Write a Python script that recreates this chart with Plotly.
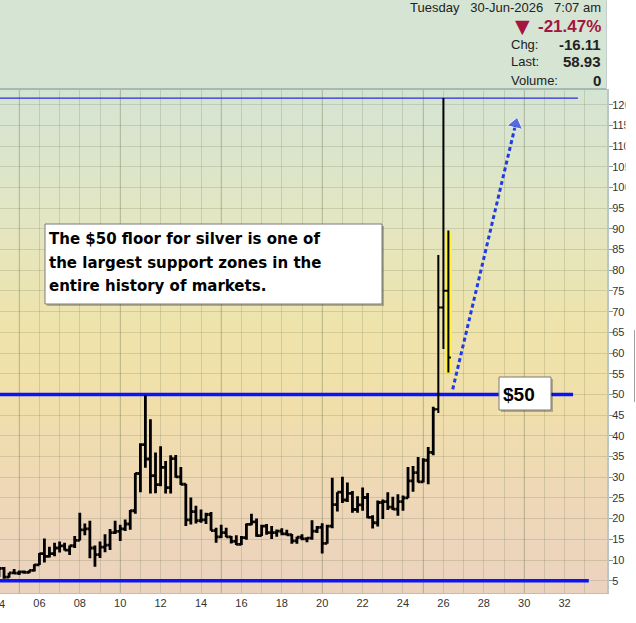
import base64
import plotly.graph_objects as go

# ---------------- data (quarterly silver bars) ----------------
QUARTER_START = [f"{y}-{m:02d}-01" for y in range(2004, 2027) for m in (1, 4, 7, 10)][:90]

OPEN = [
    5.96, 7.97, 5.85, 6.90,      # 2004
    6.82, 7.14, 7.03, 7.50,      # 2005
    8.83, 11.55, 10.90, 11.55,   # 2006
    12.90, 13.40, 12.40, 13.45,  # 2007
    14.76, 17.30, 17.50, 12.90,  # 2008
    11.30, 13.10, 13.60, 16.60,  # 2009
    16.90, 17.50, 18.70, 21.90,  # 2010
    30.90, 37.90, 34.40, 30.40,  # 2011
    28.20, 32.40, 27.50, 34.50,  # 2012
    30.10, 28.30, 19.70, 21.70,  # 2013
    19.50, 19.70, 21.00, 17.10,  # 2014
    15.60, 16.60, 15.60, 14.50,  # 2015
    13.80, 15.40, 18.60, 19.20,  # 2016
    15.90, 18.20, 16.60, 16.60,  # 2017
    17.00, 16.30, 16.10, 14.60,  # 2018
    15.50, 15.10, 15.30, 17.00,  # 2019
    17.90, 14.00, 18.20, 23.40,  # 2020
    26.40, 24.50, 26.10, 22.20,  # 2021
    23.30, 25.10, 20.30, 19.00,  # 2022
    23.90, 24.10, 22.80, 22.30,  # 2023
    24.10, 25.00, 29.10, 31.10,  # 2024
    28.90, 34.10, 36.00, 46.40,  # 2025
    71.00, 75.04,                # 2026
]
HIGH = [
    8.00, 8.29, 6.90, 7.82,
    7.46, 7.48, 7.55, 9.00,
    11.70, 15.20, 13.20, 14.15,
    14.50, 14.20, 13.50, 15.80,
    21.40, 18.80, 19.50, 13.50,
    14.50, 16.20, 17.50, 19.50,
    18.50, 19.80, 22.10, 31.00,
    38.20, 49.80, 44.00, 36.00,
    37.50, 33.90, 35.30, 35.40,
    32.50, 28.40, 25.10, 23.10,
    22.20, 21.40, 21.60, 17.80,
    18.50, 17.80, 15.80, 16.00,
    15.80, 18.80, 21.20, 20.00,
    18.50, 18.70, 18.20, 17.40,
    17.70, 17.30, 16.30, 15.60,
    16.20, 15.50, 19.60, 18.20,
    18.90, 18.50, 29.90, 26.40,
    30.10, 28.70, 26.70, 25.40,
    27.50, 26.20, 20.80, 24.40,
    24.60, 26.40, 25.30, 25.90,
    25.60, 32.50, 32.70, 34.90,
    34.60, 37.30, 47.00, 83.70,
    121.60, 89.60,
]
LOW = [
    5.90, 5.50, 5.72, 6.55,
    6.40, 6.70, 6.80, 7.20,
    8.80, 9.40, 10.60, 10.90,
    11.80, 12.30, 11.20, 12.90,
    14.70, 16.00, 10.40, 8.40,
    10.50, 11.90, 12.40, 16.30,
    14.60, 17.00, 17.30, 21.20,
    26.40, 32.30, 26.10, 26.15,
    27.80, 26.10, 26.10, 29.90,
    28.10, 18.20, 18.60, 18.80,
    19.00, 18.70, 17.10, 14.20,
    15.30, 15.50, 14.00, 13.60,
    13.60, 14.90, 18.40, 15.60,
    15.80, 16.10, 15.10, 15.60,
    16.00, 15.90, 13.90, 13.90,
    14.80, 14.30, 14.90, 16.50,
    11.60, 13.90, 17.70, 21.70,
    23.80, 24.00, 21.40, 21.40,
    21.90, 20.10, 17.60, 18.10,
    19.90, 22.10, 22.10, 20.70,
    21.90, 24.90, 26.50, 28.70,
    28.70, 28.30, 35.30, 45.50,
    61.00, 55.30,
]
CLOSE = [
    7.97, 5.85, 6.90, 6.82,
    7.14, 7.03, 7.50, 8.83,
    11.55, 10.90, 11.55, 12.90,
    13.40, 12.40, 13.45, 14.76,
    17.30, 17.50, 12.90, 11.30,
    13.10, 13.60, 16.60, 16.90,
    17.50, 18.70, 21.90, 30.90,
    37.90, 34.40, 30.40, 28.20,
    32.40, 27.50, 34.50, 30.10,
    28.30, 19.70, 21.70, 19.50,
    19.70, 21.00, 17.10, 15.60,
    16.60, 15.60, 14.50, 13.80,
    15.40, 18.60, 19.20, 15.90,
    18.20, 16.60, 16.60, 17.00,
    16.30, 16.10, 14.60, 15.50,
    15.10, 15.30, 17.00, 17.90,
    14.00, 18.20, 23.40, 26.40,
    24.50, 26.10, 22.20, 23.30,
    25.10, 20.30, 19.00, 23.90,
    24.10, 22.80, 22.30, 24.10,
    25.00, 29.10, 31.10, 28.90,
    34.10, 36.00, 46.40, 71.00,
    75.04, 58.93,
]

Y_TICKS = list(range(5, 125, 5))
X_TICK_YEARS = list(range(2004, 2034))
X_TICK_TEXT = [f"{y % 100:02d}" if y % 2 == 0 else "" for y in X_TICK_YEARS]
MAJOR_GRID_YEARS = [2005, 2010, 2015, 2020, 2025, 2030]

SUPPORT_LEVEL = 50
BASE_LEVEL = 5
DATE_TEXT = "Tuesday\u00a0\u00a0 30-Jun-2026\u00a0\u00a0 7:07 am"
VOLUME = 0
NOTE_LINES = ["The $50 floor for silver is one of",
              "the largest support zones in the",
              "entire history of markets."]
ARROW_X = ["2026-06-18", "2029-07-30"]
ARROW_Y = [51.25, 115.3]

# ---------------- layout helpers ----------------
W, H = 636, 623
PL, PR, PT, PB = 0, 607, 89, 593


def px(x):
    return (x - PL) / (PR - PL)


def py(y):
    return (PB - y) / (PB - PT)


ARIAL = "Liberation Sans, Arial, sans-serif"
DEJAVU = "DejaVu Sans, Verdana, sans-serif"
CRIMSON = "#a3143f"
BLUE = "#0a14f5"

chg = CLOSE[-1] - CLOSE[-2]
pct = chg / CLOSE[-2] * 100

# gradient background as inline SVG
stops = [(0, "#d4e4d4"), (0.25, "#e2e6c3"), (0.48, "#efe3aa"),
         (0.62, "#f1dfaa"), (0.8, "#eed8b6"), (1, "#ebd2bf")]
stop_xml = "".join(f'<stop offset="{o}" stop-color="{c}"/>' for o, c in stops)
svg = ('<svg xmlns="http://www.w3.org/2000/svg" width="100" height="100" '
       'viewBox="0 0 100 100" preserveAspectRatio="none"><defs>'
       '<linearGradient id="g" x1="0" y1="0" x2="0" y2="1">' + stop_xml +
       '</linearGradient></defs><rect width="100" height="100" fill="url(#g)"/></svg>')
svg_uri = "data:image/svg+xml;base64," + base64.b64encode(svg.encode()).decode()

fig = go.Figure()

# yellow highlight of current bar
fig.add_trace(go.Bar(
    x=[QUARTER_START[-1]], y=[HIGH[-1] - LOW[-1]], base=[LOW[-1]],
    width=[130 * 86400000], marker=dict(color="#fff23a", line=dict(width=0)),
    hoverinfo="skip", showlegend=False))

n_old = len(OPEN) - 3
black = dict(line=dict(color="black"))
fig.add_trace(go.Ohlc(
    x=QUARTER_START[:n_old], open=OPEN[:n_old], high=HIGH[:n_old],
    low=LOW[:n_old], close=CLOSE[:n_old], tickwidth=0.5,
    line=dict(width=2.8), increasing=black, decreasing=black, showlegend=False))
fig.add_trace(go.Ohlc(
    x=QUARTER_START[n_old:], open=OPEN[n_old:], high=HIGH[n_old:],
    low=LOW[n_old:], close=CLOSE[n_old:], tickwidth=0.5,
    line=dict(width=2), increasing=black, decreasing=black, showlegend=False))

# dashed projection arrow
fig.add_trace(go.Scatter(
    x=ARROW_X, y=ARROW_Y, mode="lines+markers",
    line=dict(color="#1f3be6", width=3, dash="4px,3px"),
    marker=dict(symbol=["circle", "triangle-up"], size=[0, 14],
                color="#1f3be6", angleref="previous"),
    hoverinfo="skip", showlegend=False))

shapes = []
# darker 5-year gridlines
for yr in MAJOR_GRID_YEARS:
    shapes.append(dict(type="line", xref="x", yref="paper", x0=f"{yr}-01-01", x1=f"{yr}-01-01",
                       y0=0, y1=1, layer="below", line=dict(color="rgba(90,100,60,0.22)", width=1)))
# info panel
shapes.append(dict(type="rect", xref="paper", yref="paper", x0=0, x1=1, y0=py(89), y1=py(0),
                   fillcolor="#d5e4d3", line=dict(width=0), layer="above"))
shapes.append(dict(type="line", xref="paper", yref="paper", x0=0, x1=1, y0=py(89), y1=py(89),
                   line=dict(color="#a8b8b5", width=2), layer="above"))
shapes.append(dict(type="line", xref="paper", yref="paper", x0=px(606.5), x1=px(606.5), y0=py(89), y1=py(0),
                   line=dict(color="#c2cfcd", width=1), layer="above"))
# support lines
shapes.append(dict(type="line", xref="x", yref="y", x0="2003-01-01", x1="2032-06-03",
                   y0=SUPPORT_LEVEL, y1=SUPPORT_LEVEL, layer="between", line=dict(color=BLUE, width=3.5)))
shapes.append(dict(type="line", xref="x", yref="y", x0="2003-01-01", x1="2033-03-14",
                   y0=BASE_LEVEL, y1=BASE_LEVEL, layer="between", line=dict(color=BLUE, width=3.5)))
shapes.append(dict(type="line", xref="x", yref="y", x0="2003-01-01", x1="2032-08-29",
                   y0=max(HIGH), y1=max(HIGH), layer="between", line=dict(color="#2a2ae8", width=1.2)))
# note box
shapes.append(dict(type="rect", xref="paper", yref="paper", x0=px(47), x1=px(384), y0=py(306), y1=py(226),
                   fillcolor="rgba(0,0,0,0.25)", line=dict(width=0), layer="above"))
shapes.append(dict(type="rect", xref="paper", yref="paper", x0=px(45), x1=px(382), y0=py(304), y1=py(224),
                   fillcolor="white", line=dict(color="#7a7a7a", width=1), layer="above"))
# $50 box
shapes.append(dict(type="rect", xref="paper", yref="paper", x0=px(501), x1=px(553), y0=py(412), y1=py(379),
                   fillcolor="rgba(0,0,0,0.25)", line=dict(width=0), layer="above"))
shapes.append(dict(type="rect", xref="paper", yref="paper", x0=px(499), x1=px(551), y0=py(410), y1=py(377),
                   fillcolor="white", line=dict(color="#7a7a7a", width=1), layer="above"))
# right clip + scrollbar edge
shapes.append(dict(type="rect", xref="paper", yref="paper", x0=px(625.5), x1=px(645), y0=py(640), y1=py(-5),
                   fillcolor="white", line=dict(width=0), layer="above"))
shapes.append(dict(type="line", xref="paper", yref="paper", x0=px(634.5), x1=px(634.5), y0=py(402), y1=py(330),
                   line=dict(color="#a0a0a0", width=1), layer="above"))


def ann(text, x, y, xanchor="left", size=13, color="#222", family=ARIAL):
    return dict(text=text, x=px(x), y=py(y), xref="paper", yref="paper",
                xanchor=xanchor, yanchor="middle", showarrow=False,
                font=dict(family=family, size=size, color=color),
                borderpad=0, borderwidth=0)


annotations = [
    ann(DATE_TEXT, 600.5, 7.5, "right", 13),
    ann("\u25bc", 522, 25.5, "center", 19, CRIMSON, DEJAVU),
    ann(f"<b>{pct:.2f}%</b>", 600.5, 26, "right", 17, CRIMSON),
    ann("Chg:", 511, 44.5, "left", 13),
    ann(f"<b>{chg:.2f}</b>", 600.5, 44.5, "right", 15),
    ann("Last:", 511, 62, "left", 13),
    ann(f"<b>{CLOSE[-1]:.2f}</b>", 600.5, 62, "right", 15),
    ann("Volume:", 511, 80.5, "left", 13),
    ann(f"<b>{VOLUME}</b>", 600.5, 80.5, "right", 15),
    ann(f"<b>${SUPPORT_LEVEL}</b>", 503, 394, "left", 19, "black"),
    ann(X_TICK_TEXT[0], -1, 603.5, "center", 11, "#333"),
]
for i, line in enumerate(NOTE_LINES):
    annotations.append(ann(f"<b>{line}</b>", 49, 239 + i * 23.5, "left", 15, "black", DEJAVU))

GRID = "rgba(110,120,80,0.22)"
fig.update_layout(
    width=W, height=H,
    margin=dict(l=PL, r=W - PR, t=PT, b=H - PB, pad=0),
    paper_bgcolor="white", plot_bgcolor="rgba(0,0,0,0)",
    showlegend=False, bargap=0,
    images=[dict(source=svg_uri, xref="paper", yref="paper", x=0, y=1, sizex=1, sizey=1,
                 sizing="stretch", xanchor="left", yanchor="top", layer="below")],
    shapes=shapes, annotations=annotations,
    xaxis=dict(type="date", range=["2004-01-19", "2034-02-06"],
               tickmode="array", tickvals=[f"{y}-01-01" for y in X_TICK_YEARS], ticktext=X_TICK_TEXT,
               ticks="", showgrid=True, gridcolor=GRID, gridwidth=1,
               showline=True, linecolor="#b3c0c4", linewidth=1,
               tickfont=dict(family=ARIAL, size=11, color="#333"),
               rangeslider=dict(visible=False), fixedrange=True, automargin=False),
    yaxis=dict(side="right", range=[2.03, 123.8], tickmode="array", tickvals=Y_TICKS,
               ticks="outside", ticklen=4, tickcolor="#8a9a9a", ticklabelstandoff=-3,
               showgrid=True, gridcolor=GRID, gridwidth=1, zeroline=False,
               showline=True, linecolor="#b8c8c8", linewidth=2,
               tickfont=dict(family=ARIAL, size=11, color="#333"),
               fixedrange=True, automargin=False),
)

fig.write_html("out.html")
